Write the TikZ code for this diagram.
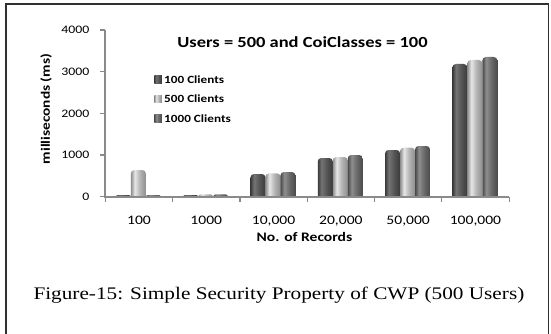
\documentclass[tikz,border=0pt]{standalone}
\usepackage{fontspec}
\newfontfamily\calw[FakeStretch=1.2]{Carlito}
\newfontfamily\capw[FakeStretch=1.2]{Liberation Serif}
\definecolor{axisgray}{HTML}{8A8A8A}
\definecolor{framec}{HTML}{303030}
\definecolor{sAe}{HTML}{3A3A3A}\definecolor{sAh}{HTML}{747474}\definecolor{sAm}{HTML}{555555}
\definecolor{sBe}{HTML}{8E8E8E}\definecolor{sBh}{HTML}{E6E6E6}\definecolor{sBm}{HTML}{B4B4B4}
\definecolor{sCe}{HTML}{4A4A4A}\definecolor{sCh}{HTML}{8E8E8E}\definecolor{sCm}{HTML}{696969}
\pgfdeclarehorizontalshading{cylA}{100bp}{color(0bp)=(sAe); color(25bp)=(sAe); color(37bp)=(sAh); color(55bp)=(sAm); color(75bp)=(sAe); color(100bp)=(sAe)}
\pgfdeclarehorizontalshading{cylB}{100bp}{color(0bp)=(sBe); color(25bp)=(sBe); color(38bp)=(sBh); color(55bp)=(sBm); color(75bp)=(sBe); color(100bp)=(sBe)}
\pgfdeclarehorizontalshading{cylC}{100bp}{color(0bp)=(sCe); color(25bp)=(sCe); color(38bp)=(sCh); color(55bp)=(sCm); color(75bp)=(sCe); color(100bp)=(sCe)}
\newcommand\cylbar[3]{%
  \pgfmathsetmacro\rr{min(3.5,197-#2)}%
  \shade[shading=#3] (#1,197) -- (#1,#2+\rr) arc[start angle=180,end angle=90,radius=\rr pt] -- (#1+15-\rr,#2) arc[start angle=90,end angle=0,radius=\rr pt] -- (#1+15,197) -- cycle;}
\begin{document}
\begin{tikzpicture}[x=1pt,y=-1pt,
  axisln/.style={draw=axisgray,line width=2pt},
  tickln/.style={draw=axisgray,line width=1.2pt},
  framel/.style={draw=framec,line width=1.6pt},
  ylab/.style={font=\calw\fontsize{11.5}{13}\selectfont,inner sep=0pt,anchor=east},
  xlab/.style={font=\calw\fontsize{13}{15}\selectfont,inner sep=0pt,anchor=base},
  legtxt/.style={font=\calw\bfseries\fontsize{11}{13}\selectfont,inner sep=0pt,anchor=base west},
  legsq/.style={shade,minimum size=7.5pt,inner sep=0pt},
  titletxt/.style={font=\calw\bfseries\fontsize{15.4}{17}\selectfont,inner sep=0pt,anchor=base},
  axtitle/.style={font=\calw\bfseries\fontsize{13}{15}\selectfont,inner sep=0pt},
  captxt/.style={font=\capw\fontsize{17.7}{20}\selectfont,inner sep=0pt,anchor=base west}]
\useasboundingbox (0,0) rectangle (551,334);
% frame
\coordinate (FTL) at (6,4.3);
\coordinate (FTR) at (548.5,4.3);
\coordinate (FBL) at (6,336);
\coordinate (FBR) at (548.5,336);
\draw[framel] (FBL) -- (FTL) -- (FTR) -- (FBR);
% bars
\foreach \g/\ta/\tb/\tc in {0/195/170/195,1/195/194.3/194.3,2/174/173.3/172,3/158/157/155,4/150/147.7/146,5/64/60/57}{
  \pgfmathsetmacro\xs{105.3+(\g+0.5)*67.3-0.6-22.5}
  \cylbar{\xs}{\ta}{cylA}
  \cylbar{\xs+15}{\tb}{cylB}
  \cylbar{\xs+30}{\tc}{cylC}
}
% axes
\coordinate (O) at (105.3,197);
\coordinate (Ytop) at (105.3,30);
\coordinate (Xend) at (509,197);
\draw[axisln] (Ytop) -- (O) -- (Xend);
\foreach \k/\lab in {0/0,1/1000,2/2000,3/3000,4/4000}{
  \coordinate (yt\k) at (105.3,196.7-\k*41.675);
  \coordinate (ytl\k) at (100,196.7-\k*41.675);
  \draw[tickln] (ytl\k) -- (yt\k);
  \node[ylab] (ylab\k) at (89.5,196.7-\k*41.675) {\lab};
}
\foreach \k in {0,...,6}{
  \coordinate (xt\k) at (105.3+\k*67.3,197);
  \coordinate (xtb\k) at (105.3+\k*67.3,202);
  \draw[tickln] (xt\k) -- (xtb\k);
}
\foreach \k/\lab in {0/100,1/1000,2/{10,000},3/{20,000},4/{50,000},5/{100,000}}{
  \node[xlab] (xlab\k) at (105.3+\k*67.3+33.65,224) {\lab};
}
% titles
\node[titletxt] (title) at (302.5,47.3) {Users = 500 and CoiClasses = 100};
\node[axtitle,anchor=base] (xtitle) at (304.5,241) {No. of Records};
\node[axtitle,font=\calw\bfseries\fontsize{12.8}{14}\selectfont,rotate=90] (ytitle) at (46,109) {milliseconds (ms)};
% legend
\node[legsq,shading=cylA] (lq1) at (158,79.5) {};
\node[legsq,shading=cylB] (lq2) at (158,99) {};
\node[legsq,shading=cylC] (lq3) at (158,118.5) {};
\node[legtxt] (lt1) at (164,83.3) {100 Clients};
\node[legtxt] (lt2) at (164,102.8) {500 Clients};
\node[legtxt] (lt3) at (164,122.3) {1000 Clients};
% caption
\node[captxt] (cap) at (33.3,299) {Figure-15: Simple Security Property of CWP (500 Users)};
\end{tikzpicture}
\end{document}
